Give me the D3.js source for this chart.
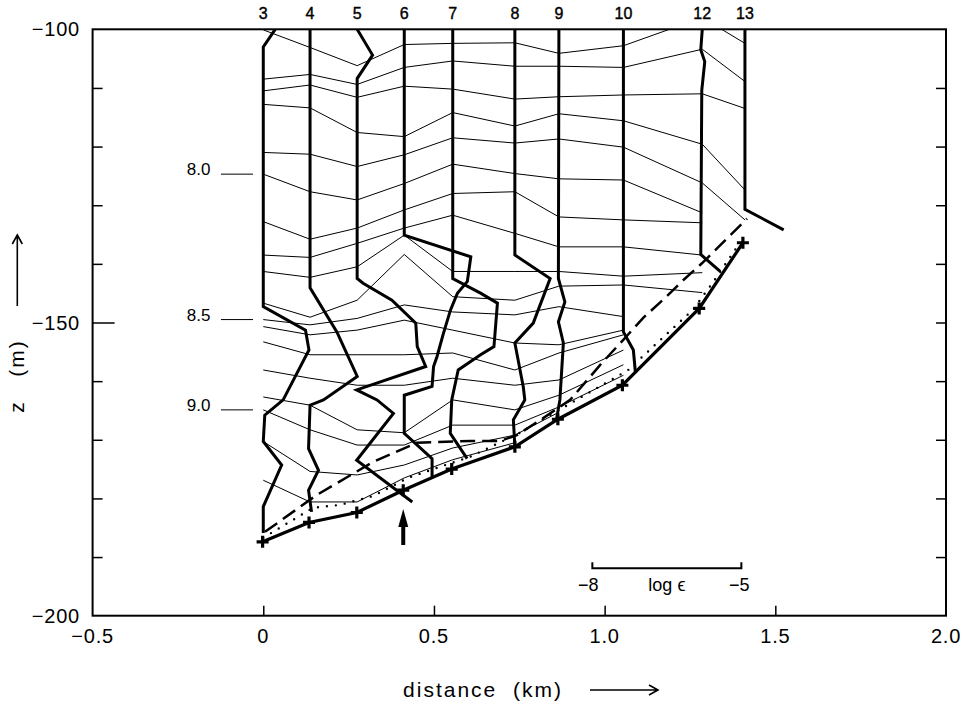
<!DOCTYPE html>
<html><head><meta charset="utf-8">
<script src="https://cdn.jsdelivr.net/npm/d3@7"></script>
<style>
body{margin:0;background:#fff}
text{font-family:"Liberation Sans",Arial,Helvetica,sans-serif;fill:#000}
</style>
</head><body>
<svg id="chart" width="970" height="708"></svg>
<script>
// Stations along the section: name and horizontal position (km)
const stations = ["3","4","5","6","7","8","9","10","12","13"];
const stationDist = [0, 0.137, 0.275, 0.413, 0.555, 0.737, 0.866, 1.055, 1.286, 1.411];

// Sea floor under each station
const bottomDist = [-0.002, 0.134, 0.274, 0.410, 0.552, 0.737, 0.863, 1.052, 1.277, 1.405];
const bottomDepth = [-187.4, -184.1, -182.4, -178.6, -175.0, -171.2, -166.5, -160.7, -147.6, -136.4];

// Isopycnal depths (m) at each station, one row per sigma level
const sigmaLevels = [7.5, 7.6, 7.7, 7.8, 7.9, 8.0, 8.1, 8.2, 8.3, 8.4, 8.5, 8.6, 8.7, 8.8, 8.9, 9.0, 9.1, 9.2];
const isopycnalDepth = [
  [-100.1, -103.1, -106.2, -102.6, -102.4, -102.3, -104.1, -102.8, -98.0, -102.4],
  [-108.5, -107.7, -109.4, -106.5, -105.4, -106.3, -106.3, -106.5, -103.4, -108.9],
  [-110.5, -109.5, -111.6, -109.7, -110.2, -111.9, -111.5, -111.2, -111.0, -113.5],
  [-112.8, -113.4, -117.6, -118.3, -114.2, -116.5, -114.4, -115.6, -119.6, -127.4],
  [-121.0, -121.3, -123.4, -121.4, -118.5, -119.4, -118.7, -120.1, -126.2, -132.5],
  [-124.7, -127.7, -129.1, -126.3, -123.0, -124.6, -125.5, -125.7, -131.3, null],
  [-132.8, -135.8, -133.9, -130.8, -128.0, -127.7, -132.0, -132.5, -133.0, null],
  [-138.5, -138.9, -136.5, -133.9, -131.7, -134.8, -137.1, -137.1, -138.5, null],
  [-141.3, -142.3, -140.5, -135.1, -141.3, -141.3, -141.3, -142.1, -141.5, null],
  [-146.7, -149.1, -146.2, -138.4, -145.6, -146.2, -143.8, -143.6, -144.9, null],
  [-149.5, -150.4, -149.3, -147.0, -148.2, -148.7, -147.3, -149.0, null, null],
  [-150.7, -152.1, -151.3, -149.6, -151.3, -153.5, -153.8, -151.3, null, null],
  [-153.3, -155.5, -155.5, -155.5, -155.2, -158.1, -155.2, -152.1, null, null],
  [-158.1, -159.5, -160.7, -160.7, -159.5, -160.7, -159.8, -154.7, null, null],
  [-162.7, -164.1, -168.3, -168.8, -163.2, -164.9, -162.4, -157.2, null, null],
  [-164.9, -168.3, -170.9, -170.9, -167.5, -167.5, -164.4, -159.0, null, null],
  [-170.3, -175.4, -176.0, -174.3, -171.4, -169.2, -165.3, null, null, null],
  [-176.9, -180.6, -180.6, -176.5, -173.4, -170.5, null, null, null, null]
];
const sigmaLabels = [8.0, 8.5, 9.0];

// Dissipation profiles per station: [depth (m), log10 epsilon]
const EPS_BASE = -9;          // log eps plotted on the station line
const KM_PER_DECADE = 0.1455; // horizontal size of one decade of epsilon
const epsProfiles = [
  [[-100,-8.76],[-103,-9],[-147.3,-9],[-151.3,-8.15],[-154.7,-8.08],[-163.2,-8.6],[-165.8,-8.97],[-170.3,-9],[-174.3,-8.63],[-181.4,-9],[-185.9,-9]],
  [[-100,-9],[-144.1,-9],[-151.6,-8.46],[-159.2,-8.05],[-163.2,-8.73],[-164.1,-9],[-171.5,-9.03],[-175.2,-8.83],[-178.6,-9.03],[-182.3,-8.97]],
  [[-100,-9],[-104.4,-8.69],[-108.4,-9],[-142.5,-9],[-143.3,-8.88],[-146.2,-8.3],[-150.1,-7.82],[-154.1,-7.79],[-157.5,-7.62],[-161.5,-9.01],[-163.2,-8.6],[-165.5,-8.27],[-173.5,-9.01],[-180.6,-7.89]],
  [[-100,-9],[-135.1,-9],[-138.8,-7.66],[-143.0,-7.73],[-145.0,-7.93],[-147.9,-8.07],[-151.8,-8.21],[-155.8,-8.34],[-157.5,-8.41],[-160.9,-8.44],[-162.4,-9],[-168.9,-9],[-173.2,-8.44],[-176.3,-8.44]],
  [[-100,-9],[-142.5,-9],[-145.0,-8.44],[-146.7,-8.1],[-154.1,-8.17],[-155.5,-8.44],[-158.1,-8.89],[-163.2,-9.02],[-168.9,-9.05],[-173.2,-8.71]],
  [[-100,-9],[-138.5,-9],[-142.5,-8.29],[-150.1,-8.63],[-153.5,-9],[-161.0,-8.83],[-163.2,-8.8],[-166.6,-9.03],[-171.2,-9]],
  [[-100,-9],[-142.5,-9.01],[-146.5,-8.88],[-149.9,-9.01],[-153.5,-8.91],[-163.2,-8.98],[-166.6,-9.05]],
  [[-100,-9],[-151.6,-9],[-154.7,-8.8],[-158.4,-8.76]],
  [[-100,-9],[-103.5,-9.03],[-105.5,-8.95],[-110.4,-9.01],[-138.4,-9.03],[-141.3,-8.64]],
  [[-100,-9],[-130.7,-9],[-134.2,-8.22]]
];

// Reference curves above the floor: [distance (km), depth (m)]
const dashedLine = [[0.005,-185.7],[0.157,-179.4],[0.321,-173.8],[0.450,-170.5],[0.606,-170.2],[0.694,-170.2],[0.743,-169.2],[0.820,-166.3],[0.899,-163.2],[0.992,-156.9],[1.054,-153.0],[1.113,-149.2],[1.177,-145.8],[1.230,-142.8],[1.285,-139.9],[1.344,-136.5],[1.417,-132.3]];
const dottedLine = [[0.0,-186.7],[0.146,-181.6],[0.225,-181.1],[0.321,-179.6],[0.424,-176.5],[0.518,-174.6],[0.606,-172.9],[0.752,-168.8],[0.855,-165.3],[1.069,-158.1],[1.183,-151.9],[1.259,-147.8],[1.318,-143.1],[1.388,-137.1]];

// Scale bar for log epsilon
const scaleBarStart = 0.964, scaleBarDepth = -191.9, scaleBarRange = [-8, -5];
const arrowStation = 3; // index of station 6

const xTicks = [-0.5, 0, 0.5, 1.0, 1.5, 2.0];
const yLabelTicks = [-200, -150, -100];

const svg = d3.select("#chart");
const L = 92.6, R = 946, T = 29.3, B = 615.7;
const x = d3.scaleLinear().domain([-0.5, 2.0]).range([L, R]);
const y = d3.scaleLinear().domain([-200, -100]).range([B, T]);
const fmt = v => (v < 0 ? "\u2212" : "") + (v === 0 ? "0" : (Number.isInteger(v) && Math.abs(v) >= 10 ? Math.abs(v) : Math.abs(v).toFixed(1)));

svg.append("defs").append("clipPath").attr("id","plot")
  .append("rect").attr("x",L).attr("y",T).attr("width",R-L).attr("height",B-T);

// Axes frame and ticks
const yMinor = d3.range(-190, -100, 10);
const axL = svg.append("g").attr("transform",`translate(${L},0)`)
  .call(d3.axisRight(y).tickValues(yMinor).tickSize(10).tickFormat(""));
axL.selectAll(".tick line").attr("stroke-width",1.5).attr("x2", d => d === -150 ? 22 : 10);
const axR = svg.append("g").attr("transform",`translate(${R},0)`)
  .call(d3.axisLeft(y).tickValues(yMinor).tickSize(10).tickFormat(""));
axR.selectAll(".tick line").attr("stroke-width",1.5);
const axB = svg.append("g").attr("transform",`translate(0,${B})`)
  .call(d3.axisTop(x).tickValues([0,0.5,1.0,1.5]).tickSize(10).tickFormat(""));
axB.selectAll(".tick line").attr("stroke-width",1.5);
[axL, axR, axB].forEach(a => a.select(".domain").remove());
svg.append("rect").attr("x",L).attr("y",T).attr("width",R-L).attr("height",B-T)
  .attr("fill","none").attr("stroke","#000").attr("stroke-width",2);

svg.append("g").selectAll("text").data(yLabelTicks).join("text")
  .attr("x", 80).attr("y", d => y(d) + 7).attr("text-anchor","end")
  .attr("font-size",20).attr("letter-spacing",0.8).text(fmt);
svg.append("g").selectAll("text").data(xTicks).join("text")
  .attr("x", d => x(d)).attr("y", 643).attr("text-anchor","middle")
  .attr("font-size",20).attr("letter-spacing",0.8).text(fmt);

// Axis titles with arrows
svg.append("text").attr("x",483).attr("y",697).attr("text-anchor","middle")
  .attr("font-size",21).attr("letter-spacing",2).attr("xml:space","preserve").text("distance  (km)");
svg.append("path").attr("d","M590,690 H658 M649,685 L658,690 L649,695")
  .attr("fill","none").attr("stroke","#000").attr("stroke-width",1.6);
svg.append("text").attr("transform","translate(24,376) rotate(-90)").attr("text-anchor","middle")
  .attr("font-size",21).attr("letter-spacing",2).attr("xml:space","preserve").text("z   (m)");
svg.append("path").attr("d","M17.3,306 V235 M12.3,244 L17.3,235 L22.3,244")
  .attr("fill","none").attr("stroke","#000").attr("stroke-width",1.6);

const plot = svg.append("g").attr("clip-path","url(#plot)");
const line = d3.line().defined(d => d[1] !== null).x(d => x(d[0])).y(d => y(d[1]));

// Isopycnals
plot.append("g").selectAll("path").data(isopycnalDepth).join("path")
  .attr("d", row => line(row.map((z,i) => [stationDist[i], z])))
  .attr("fill","none").attr("stroke","#000").attr("stroke-width",1);

// Sigma labels left of station 3
const g3 = svg.append("g");
sigmaLabels.forEach(s => {
  const z = isopycnalDepth[sigmaLevels.findIndex(v => Math.abs(v - s) < 1e-6)][0];
  g3.append("line").attr("x1", x(-0.124)).attr("x2", x(-0.03)).attr("y1", y(z)).attr("y2", y(z))
    .attr("stroke","#000").attr("stroke-width",1);
  g3.append("text").attr("x", x(-0.155)).attr("y", y(z) + 1).attr("text-anchor","end")
    .attr("font-size",17).text(s.toFixed(1));
});

// Dashed and dotted curves
plot.append("path").attr("d", line(dashedLine)).attr("fill","none")
  .attr("stroke","#000").attr("stroke-width",2.5).attr("stroke-dasharray","15,7");
plot.append("path").attr("d", line(dottedLine)).attr("fill","none")
  .attr("stroke","#000").attr("stroke-width",2.4).attr("stroke-linecap","round").attr("stroke-dasharray","0,9");

// Dissipation profiles
const epsX = (i, le) => stationDist[i] + (le - EPS_BASE) * KM_PER_DECADE;
plot.append("g").selectAll("path").data(epsProfiles).join("path")
  .attr("d", (p, i) => line(p.map(d => [epsX(i, d[1]), d[0]])))
  .attr("fill","none").attr("stroke","#000").attr("stroke-width",3).attr("stroke-linejoin","miter");

// Sea floor with station markers
const floor = bottomDist.map((d,i) => [d, bottomDepth[i]]);
plot.append("path").attr("d", line(floor)).attr("fill","none")
  .attr("stroke","#000").attr("stroke-width",3.2);
svg.append("g").selectAll("path").data(floor).join("path")
  .attr("d", d => `M${x(d[0])-6},${y(d[1])} h12 M${x(d[0])},${y(d[1])-6} v12`)
  .attr("stroke","#000").attr("stroke-width",3.2);

// Arrow pointing at station 6 floor
const ax6 = x(bottomDist[arrowStation]);
svg.append("line").attr("x1",ax6).attr("x2",ax6).attr("y1",545).attr("y2",522)
  .attr("stroke","#000").attr("stroke-width",4);
svg.append("path").attr("d",`M${ax6-5},${527} L${ax6},${509} L${ax6+5},${527} Z`).attr("fill","#000");

// Station names
svg.append("g").selectAll("text").data(stations).join("text")
  .attr("x", (d,i) => x(stationDist[i])).attr("y", 19).attr("text-anchor","middle")
  .attr("font-size",16).attr("stroke","#000").attr("stroke-width",0.4).text(d => d);

// Log epsilon scale bar
const sb0 = x(scaleBarStart), sb1 = x(scaleBarStart + (scaleBarRange[1]-scaleBarRange[0]) * KM_PER_DECADE), sby = y(scaleBarDepth);
svg.append("path").attr("d",`M${sb0},${sby-6} V${sby} H${sb1} V${sby-6}`)
  .attr("fill","none").attr("stroke","#000").attr("stroke-width",2);
svg.append("text").attr("x",sb0-4).attr("y",sby+23).attr("text-anchor","middle").attr("font-size",18).text("\u2212" + Math.abs(scaleBarRange[0]));
svg.append("text").attr("x",sb1-2).attr("y",sby+23).attr("text-anchor","middle").attr("font-size",18).text("\u2212" + Math.abs(scaleBarRange[1]));
svg.append("text").attr("x",(sb0+sb1)/2).attr("y",sby+23).attr("text-anchor","middle").attr("font-size",18).text("log \u03f5");
</script>
</body></html>
